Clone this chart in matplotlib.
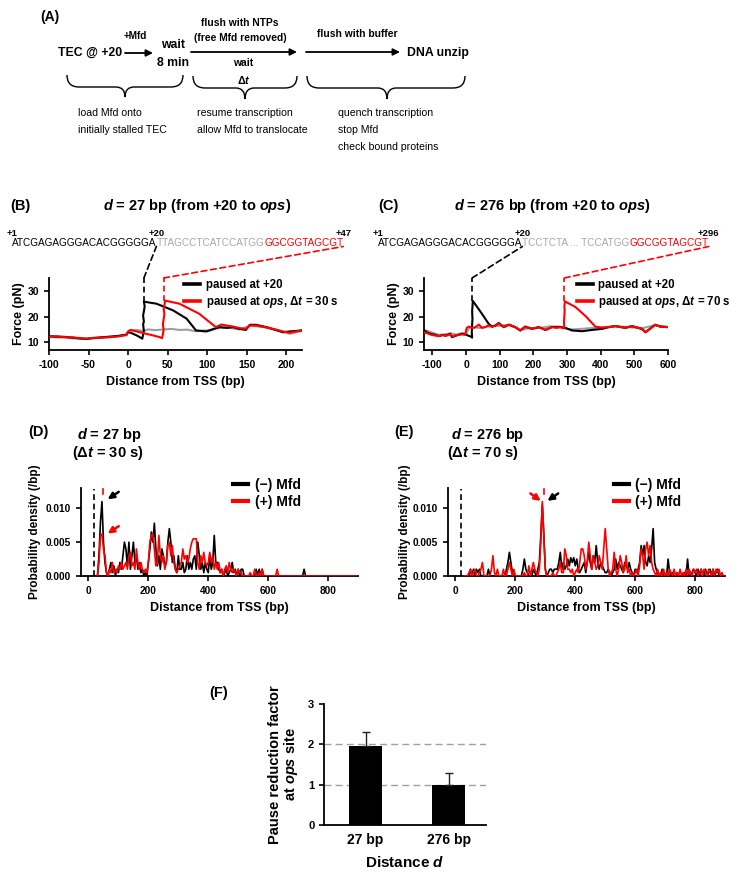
import numpy as np
import matplotlib
matplotlib.use('Agg')
import matplotlib.pyplot as plt
from matplotlib.lines import Line2D
from matplotlib.patches import PathPatch
from matplotlib.path import Path
from matplotlib import font_manager

plt.rcParams['font.family'] = ['Liberation Sans', 'DejaVu Sans']
plt.rcParams['font.weight'] = 'bold'
plt.rcParams['axes.labelweight'] = 'bold'
plt.rcParams['axes.unicode_minus'] = False
plt.rcParams['mathtext.fontset'] = 'custom'
plt.rcParams['mathtext.rm'] = 'Liberation Sans:bold'
plt.rcParams['mathtext.it'] = 'Liberation Sans:italic:bold'
plt.rcParams['mathtext.bf'] = 'Liberation Sans:bold'
plt.rcParams['axes.linewidth'] = 1.3

_names = {f.name for f in font_manager.fontManager.ttflist}
NARROW = 'Liberation Sans Narrow' if 'Liberation Sans Narrow' in _names else 'Liberation Sans'
A_SCALE = 1.15 if NARROW != 'Liberation Sans' else 1.0

RED = '#ff0000'
GRAY = '#9e9e9e'
SEQGRAY = '#a8a8a8'

# ---------------- data ----------------
# Panel B force traces (bp, pN)
b_black_x = [-100, -90, -80, -70, -60, -53, -45, -35, -23, -12, -2, 0, 5, 12, 18, 19, 20, 19, 20, 19, 20, 21, 20,
             36, 57, 74, 86, 99, 108, 116, 125, 133, 141, 149, 154, 162, 175, 186, 196, 204, 212, 219]
b_black_y = [12.4, 12.2, 12.1, 11.8, 11.5, 11.3, 11.6, 11.9, 12.2, 12.5, 13.0, 14.0, 13.5, 12.5, 11.4, 13, 14.5, 17, 18, 20.5, 22, 24, 25.8,
             25.0, 22.4, 19.2, 14.6, 14.2, 15.2, 15.9, 15.6, 15.9, 15.2, 14.8, 16.8, 16.8, 15.9, 14.9, 13.9, 14.2, 14.4, 14.6]
b_red_x = [-100, -90, -80, -70, -60, -53, -45, -35, -23, -12, -2, 0, 3, 10, 20, 30, 40, 43, 44, 45, 44, 45, 46, 45, 47,
           65, 90, 111, 118, 125, 133, 141, 149, 154, 162, 175, 186, 196, 204, 212, 219]
b_red_y = [12.2, 12.3, 12.0, 11.9, 11.6, 11.4, 11.7, 11.8, 12.0, 12.3, 12.8, 14.2, 14.8, 14.3, 13.5, 12.8, 12.0, 11.6, 13, 15, 17, 19, 21, 23, 26.2,
           25.0, 21.1, 15.9, 16.9, 16.5, 16.1, 15.5, 15.2, 16.6, 16.5, 15.8, 15.0, 14.2, 13.7, 14.2, 14.6]
b_gray_x = [-100, -80, -60, -40, -20, -2, 2, 10, 20, 25, 35, 45, 55, 65, 75, 85, 95, 105, 112, 125, 140, 155, 170, 190, 205, 212, 219]
b_gray_y = [12.0, 11.8, 11.3, 11.6, 12.1, 12.9, 14.5, 14.8, 14.4, 15.0, 14.7, 15.0, 15.2, 14.8, 14.9, 14.3, 14.6, 14.6, 15.4, 15.8, 15.0, 16.4, 16.0, 14.5, 13.3, 13.8, 14.4]

# Panel C force traces
c_black_x = [-125, -115, -106, -95, -81, -70, -60, -47, -42, -30, -12, 0, 8, 15, 18, 17, 18, 19, 18, 19, 20, 45, 67, 77, 87, 97,
             112, 127, 146, 161, 176, 196, 216, 236, 255, 280, 295, 315, 345, 374, 404, 424, 444, 473, 493, 523, 533, 562, 577, 600]
c_black_y = [14.6, 13.8, 13.3, 13.0, 12.4, 12.8, 12.6, 13.3, 12.0, 12.6, 13.3, 13.0, 12.5, 12.2, 11.8, 14, 17, 19, 22, 24, 26.1, 21.5, 17.2, 16.1, 16.5, 17.5,
             15.9, 16.8, 15.9, 14.6, 16.1, 15.2, 15.9, 14.8, 15.9, 15.9, 15.6, 14.6, 14.3, 14.8, 15.2, 15.9, 16.3, 15.6, 16.3, 15.2, 13.9, 16.8, 16.1, 15.9]
c_red_x = [-125, -115, -106, -95, -81, -70, -60, -47, -42, -30, -12, -3, 2, 8, 20, 28, 38, 47, 57, 67, 77, 87, 97, 112, 127, 146, 161,
           176, 196, 216, 236, 255, 270, 280, 290, 292, 291, 292, 293, 292, 294, 325, 355, 384, 404, 424, 444, 473, 493, 523, 533, 562, 577, 600]
c_red_y = [13.9, 13.5, 13.0, 12.7, 12.4, 12.8, 12.5, 13.1, 12.3, 12.7, 13.1, 12.9, 15.6, 16.1, 15.5, 15.9, 16.9, 15.6, 15.9, 16.6, 16.0, 16.5, 17.3, 15.9, 16.8, 15.9, 14.6,
           16.1, 15.2, 15.9, 14.8, 15.9, 15.6, 15.9, 15.4, 15.6, 18, 20, 22.5, 24, 25.9, 23.7, 20.2, 16.1, 15.7, 15.9, 16.3, 15.6, 16.3, 15.2, 13.9, 16.8, 16.1, 15.9]
c_gray_x = [-125, -110, -95, -80, -60, -45, -30, -10, 0, 10, 20, 40, 60, 80, 100, 130, 160, 190, 220, 250, 280, 300, 320, 350, 380, 410, 440, 480, 520, 560, 600]
c_gray_y = [14.9, 14.2, 13.5, 12.9, 13.2, 13.5, 13.0, 13.6, 13.3, 15.8, 15.9, 15.6, 16.0, 16.3, 16.4, 16.9, 14.8, 15.5, 15.6, 16.2, 16.1, 15.2, 15.0, 15.3, 15.6, 15.9, 16.2, 16.0, 15.4, 16.6, 15.9]

# pause / ops positions (bp) used by the dashed guides
b_pause, b_ops = 20, 45
c_pause, c_ops = 18, 292

# Panels D/E: probability density (units of 1e-3 /bp), bins every 5 bp from 30 to 895
dens_x = np.arange(30, 900, 5)
d_black = [0, 3, 8, 11, 5, 2, 0.5, 0, 1, 2, 0.5, 1.5, 0, 1,
           0.5, 2, 1, 3, 5, 4, 1.5, 5, 1, 3, 5, 2, 3, 1, 2, 0.5, 1, 0, 0.5, 0,
           2, 4, 6.5, 5, 7.8, 4, 1.5, 3, 1, 4, 3, 1.5, 2, 5, 7, 5, 2, 3, 1, 0.5,
           3, 1, 1, 2, 0.5, 1, 3, 1, 2, 1, 2.5, 3, 1, 5, 3, 1, 2, 0.5, 2, 1,
           0.5, 3, 1, 2, 6, 2, 2, 1, 0.5, 1, 0, 0.5, 1, 0, 0.5, 1, 2, 0.5, 1, 0,
           1, 0, 1, 1, 0, 0, 0, 0, 0, 0, 0, 0, 1, 0, 1, 0, 1, 0, 0, 0,
           0, 0, 0, 0, 0, 0, 0, 0, 0, 0, 0, 0, 0, 0, 0, 0, 0, 0, 0, 0,
           0, 0, 0, 0, 1, 0, 0, 0, 0, 0, 0, 0, 0, 0, 0, 0, 0, 0, 0, 0,
           0, 0, 0, 0, 0, 0, 0, 0, 0, 0, 0, 0, 0, 0, 0, 0, 0, 0, 0, 0]
d_red = [0, 2, 6, 6.2, 4, 3, 0.5, 0, 1, 0.5, 2, 0.5, 1, 0.5,
         1.5, 1, 2, 1, 1.5, 2, 1, 3, 3.5, 1.5, 2, 1, 4, 2, 1, 2, 1, 0.5, 1, 0.5,
         2, 5, 6, 6.2, 4, 1.5, 2, 6, 3, 2, 3, 1, 2, 4.5, 5, 3, 4.5, 2, 1, 0.5,
         1, 1.5, 2, 4, 2.5, 3, 2, 2.5, 4, 5, 5.5, 5.5, 5.5, 2, 1, 3, 2, 3.5, 2, 1.5,
         2, 3.5, 2, 3, 1, 2, 1, 2, 0.5, 1, 0, 1, 1.5, 0.5, 2, 1, 0.5, 1, 0.5, 0,
         1, 0.5, 0.5, 0, 0, 0, 0, 0, 0.5, 0, 0, 1, 0, 0, 0.5, 0, 1, 0, 0, 0,
         0, 0, 0, 0, 0, 0, 1, 0, 0, 0, 0, 0, 0, 0, 0, 0, 0, 0, 0, 0,
         0, 0, 0, 0, 0, 0, 0, 0, 0, 0, 0, 0, 0, 0, 0, 0, 0, 0, 0, 0,
         0, 0, 0, 0, 0, 0, 0, 0, 0, 0, 0, 0, 0, 0, 0, 0, 0, 0, 0, 0]
e_black = [0, 0, 0, 0, 1, 0, 1, 0, 1, 0.5, 1, 0, 0, 0,
           0, 0, 1, 0, 0, 0, 0, 0, 0, 0, 0, 0, 0, 0, 1, 2, 3.5, 2, 0.5, 0,
           0, 0, 0, 0, 0, 1, 2.5, 1, 0.5, 0, 0, 0, 1, 0.5, 0, 1, 2, 6, 10.5, 6,
           1, 0, 0.5, 1, 1, 0.5, 1, 1, 1, 2, 3.5, 1, 2, 1, 1.5, 2.5, 1.5, 2.7, 2, 2.7,
           1.5, 2.5, 1, 0.5, 1, 1.5, 2, 0.5, 2, 3.5, 2, 1, 3, 2, 4.5, 2, 1, 2, 1.5, 1,
           0.5, 0.5, 1, 0.5, 0, 0.5, 1, 2.5, 1, 2, 1.5, 1, 0.5, 2, 1.5, 1, 2, 1, 0.5, 0,
           1, 0.5, 1, 2, 4.5, 3, 4.5, 2, 1.5, 3, 2, 4, 7, 2, 1, 0.5, 0, 0, 1, 0,
           0, 0, 2.5, 0.5, 0, 0.5, 0, 0, 0.5, 0, 0, 0, 0, 0.5, 0, 2.5, 0, 0, 0.5, 1,
           0.5, 0, 1, 0, 1, 0.5, 0, 1, 0, 0.5, 1, 0, 1, 0, 0.5, 1, 0, 0, 0, 0]
e_red = [0, 0, 0, 0.5, 1, 0, 0.5, 1, 0, 0, 0.5, 1, 2, 0,
         0, 0, 0, 0, 1, 3, 0.5, 0, 1, 0, 0, 0, 1, 0, 0, 1, 2, 1, 0, 1,
         0, 0, 0, 0, 0, 0, 0.5, 0, 0, 1.5, 0, 1, 2, 1, 0.5, 0, 1, 5, 11, 6,
         1, 0, 0, 0, 0, 0.5, 0, 0, 0.5, 1, 2, 0.5, 0.5, 4, 3, 1, 1, 0.5, 1, 0,
         0.5, 1, 0.5, 2, 4, 4, 3, 1, 2, 5, 3, 1, 3, 2, 1, 1.5, 3, 2, 1, 4,
         7, 4, 1, 0, 0.5, 1, 3.5, 1, 0, 1, 3, 2, 0.5, 1, 3, 0.5, 1, 0, 0.5, 0,
         0.5, 1, 0, 1.5, 4, 3, 1, 4, 5, 3, 4.5, 2, 1, 0.5, 0, 1, 0, 0.5, 0, 1,
         0, 0.5, 0, 1, 0.5, 0, 1, 0, 0.5, 0, 1, 0, 0.5, 0, 1, 0, 1, 0.5, 0, 1,
         0.5, 1, 0, 0.5, 1, 0, 1, 0.5, 0, 1, 0.5, 0, 1, 0, 1, 0.5, 1, 0, 0.5, 0]

# Panel F
f_categories = ['27 bp', '276 bp']
f_values = [1.95, 0.98]
f_errors = [0.35, 0.30]

# sequences
seq_b = ['ATCGAGAGGGACACGGGGGA', 'TTAGCCTCATCCATGG', 'GGCGGTAGCGT']
seq_c = ['ATCGAGAGGGACACGGGGGA', 'TCCTCTA ... TCCATGG', 'GGCGGTAGCGT']
seq_b_labels = ['+1', '+20', '+47']
seq_c_labels = ['+1', '+20', '+296']

# ---------------- figure ----------------
W, H = 751, 876
fig = plt.figure(figsize=(W / 100, H / 100), dpi=100)


def frac(l, t, r, b):
    return [l / W, 1 - b / H, (r - l) / W, (b - t) / H]


def style(ax, tick_size=7.5):
    for s in ['top', 'right']:
        ax.spines[s].set_visible(False)
    ax.tick_params(direction='out', length=3.5, width=1.2, labelsize=tick_size)
    for lab in ax.get_xticklabels() + ax.get_yticklabels():
        lab.set_fontweight('bold')


DASH = (0, (3.5, 2.2))

# ---------- B ----------
axB = fig.add_axes(frac(49, 278, 302, 350))
axB.plot(b_gray_x, b_gray_y, color=GRAY, lw=1.5, zorder=1)
axB.plot(b_black_x, b_black_y, color='black', lw=1.5, zorder=2)
axB.plot(b_red_x, b_red_y, color=RED, lw=1.5, zorder=3)
axB.set_xlim(-100, 220)
axB.set_ylim(7, 35)
axB.set_xticks([-100, -50, 0, 50, 100, 150, 200])
axB.set_yticks([10, 20, 30])
style(axB)
axB.set_ylabel('Force (pN)', fontsize=9)
axB.yaxis.set_label_coords(-0.095, 0.5)
axB.set_xlabel('Distance from TSS (bp)', fontsize=9)
axB.xaxis.set_label_coords(0.5, -0.36)
axB.plot([b_pause, b_pause], [max(b_black_y), 35], color='black', lw=1.2, ls=DASH, clip_on=False)
axB.plot([b_ops, b_ops], [max(b_red_y), 35], color=RED, lw=1.2, ls=DASH, clip_on=False)
hB = [Line2D([], [], color='black', lw=2.6), Line2D([], [], color=RED, lw=2.6)]
axB.legend(hB, ['paused at +20', r'paused at $ops$, Δ$t$ = 30 s'], loc='upper left',
           bbox_to_anchor=(0.535, 0.99), frameon=False, fontsize=8.3, handlelength=1.4,
           handletextpad=0.5, labelspacing=0.25, borderaxespad=0, borderpad=0)

# ---------- C ----------
axC = fig.add_axes(frac(424, 278, 668, 350))
axC.plot(c_gray_x, c_gray_y, color=GRAY, lw=1.5, zorder=1)
axC.plot(c_black_x, c_black_y, color='black', lw=1.5, zorder=2)
axC.plot(c_red_x, c_red_y, color=RED, lw=1.5, zorder=3)
axC.set_xlim(-125, 600)
axC.set_ylim(7, 35)
axC.set_xticks([-100, 0, 100, 200, 300, 400, 500, 600])
axC.set_yticks([10, 20, 30])
style(axC)
axC.set_ylabel('Force (pN)', fontsize=9)
axC.yaxis.set_label_coords(-0.098, 0.5)
axC.set_xlabel('Distance from TSS (bp)', fontsize=9)
axC.xaxis.set_label_coords(0.5, -0.36)
axC.plot([c_pause, c_pause], [max(c_black_y), 35], color='black', lw=1.2, ls=DASH, clip_on=False)
axC.plot([c_ops, c_ops], [max(c_red_y), 35], color=RED, lw=1.2, ls=DASH, clip_on=False)
hC = [Line2D([], [], color='black', lw=2.6), Line2D([], [], color=RED, lw=2.6)]
axC.legend(hC, ['paused at +20', r'paused at $ops$, Δ$t$ = 70 s'], loc='upper left',
           bbox_to_anchor=(0.625, 0.99), frameon=False, fontsize=8.3, handlelength=1.4,
           handletextpad=0.5, labelspacing=0.25, borderaxespad=0, borderpad=0)


# ---------- D / E ----------
def density_panel(rect, blk, red, ylx, legx, arrows, tick_x):
    ax = fig.add_axes(rect)
    ax.plot(dens_x, np.array(blk) * 1e-3, color='black', lw=1.2, zorder=2)
    ax.plot(dens_x, np.array(red) * 1e-3, color=RED, lw=1.2, zorder=3)
    ax.set_xlim(-25, 900)
    ax.set_ylim(0, 0.013)
    ax.set_xticks([0, 200, 400, 600, 800])
    ax.set_yticks([0, 0.005, 0.010])
    ax.set_yticklabels(['0.000', '0.005', '0.010'])
    style(ax, 7.3)
    ax.plot([20, 20], [0, 0.0128], color='black', lw=1.2, ls=DASH, zorder=1)
    ax.plot([tick_x, tick_x], [0.0121, 0.0128], color=RED, lw=1.2, zorder=4)
    for (x0, y0, x1, y1, c) in arrows:
        ax.annotate('', xy=(x1, y1), xytext=(x0, y0),
                    arrowprops=dict(arrowstyle='-|>', color=c, lw=1.8, mutation_scale=9,
                                    shrinkA=0, shrinkB=0))
    ax.set_ylabel('Probability density (/bp)', fontsize=8.5)
    ax.yaxis.set_label_coords(ylx, 0.5)
    ax.set_xlabel('Distance from TSS (bp)', fontsize=9)
    ax.xaxis.set_label_coords(0.5, -0.30)
    h = [Line2D([], [], color='black', lw=3), Line2D([], [], color=RED, lw=3)]
    ax.legend(h, ['(\u2212) Mfd', '(+) Mfd'], loc='upper left', bbox_to_anchor=(legx, 1.115),
              frameon=False, fontsize=10, handlelength=1.05, handletextpad=0.5,
              labelspacing=0.25, borderaxespad=0, borderpad=0)
    return ax


axD = density_panel(frac(81, 488, 358, 576), d_black, d_red, -0.145, 0.549,
                    [(101, 0.01243, 64, 0.01134, 'black'), (101, 0.00736, 64, 0.00627, RED)], 48)
axE = density_panel(frac(448, 488, 725, 576), e_black, e_red, -0.135, 0.599,
                    [(250, 0.0122, 285, 0.0111, RED), (343, 0.0122, 307, 0.0111, 'black')], 296)

# ---------- F ----------
axF = fig.add_axes(frac(324, 704, 486, 825))
xpos = np.arange(len(f_categories))
axF.axhline(1, color='#a0a0a0', lw=1, ls=(0, (5, 3)), zorder=0)
axF.axhline(2, color='#a0a0a0', lw=1, ls=(0, (5, 3)), zorder=0)
axF.bar(xpos, f_values, width=0.4, color='black', zorder=2,
        yerr=[[0, 0], f_errors], error_kw=dict(ecolor='#222222', elinewidth=1, capsize=3, capthick=1, zorder=3))
axF.set_xlim(-0.5, 1.45)
axF.set_ylim(0, 3)
axF.set_yticks([0, 1, 2, 3])
axF.set_xticks(xpos)
axF.set_xticklabels(f_categories)
style(axF, 8)
for lab in axF.get_xticklabels():
    lab.set_fontsize(10)
axF.tick_params(axis='x', length=0, pad=6)
axF.set_ylabel('Pause reduction factor\nat $ops$ site', fontsize=10.5, linespacing=1.0)
axF.yaxis.set_label_coords(-0.15, 0.5)
axF.set_xlabel('Distance $d$', fontsize=11)
axF.xaxis.set_label_coords(0.5, -0.25)

# ---------- overlay (pixel coordinates) ----------
ax0 = fig.add_axes([0, 0, 1, 1], zorder=5)
ax0.set_xlim(0, W)
ax0.set_ylim(H, 0)
ax0.axis('off')


def atext(x, y, s, size, **kw):
    ax0.text(x, y, s, fontsize=size * A_SCALE, family=[NARROW, 'DejaVu Sans'], **kw)


# Panel A
ax0.text(50, 17, '(A)', fontsize=10, ha='center', va='center')
atext(90, 53, 'TEC @ +20', 8.8, ha='center', va='center')
atext(135, 36, '+Mfd', 7.2, ha='center', va='center')
atext(173, 45, 'wait', 8.8, ha='center', va='center')
atext(173, 63, '8 min', 8.8, ha='center', va='center')
atext(240, 23, 'flush with NTPs', 7.4, ha='center', va='center')
atext(240, 38, '(free Mfd removed)', 7.4, ha='center', va='center')
atext(243, 63, 'wait', 7.4, ha='center', va='center')
ax0.text(244, 80, 'Δ$t$', fontsize=7.8, ha='center', va='center')
atext(357, 34, 'flush with buffer', 7.4, ha='center', va='center')
atext(438, 53, 'DNA unzip', 8.8, ha='center', va='center')
for (xa, xb, y) in [(125, 153, 53), (191, 297, 52), (306, 400, 52)]:
    ax0.annotate('', xy=(xb, y), xytext=(xa, y),
                 arrowprops=dict(arrowstyle='-|>', color='black', lw=1.3, mutation_scale=10,
                                 shrinkA=0, shrinkB=0))


def brace(x0, x1, xc, ytop, ymid, ytip, r1=12, r2=9):
    verts = [(x0, ytop), (x0, ymid), (x0 + r1, ymid), (xc - r2, ymid), (xc, ymid), (xc, ytip),
             (xc, ymid), (xc + r2, ymid), (x1 - r1, ymid), (x1, ymid), (x1, ytop)]
    codes = [Path.MOVETO, Path.CURVE3, Path.CURVE3, Path.LINETO, Path.CURVE3, Path.CURVE3,
             Path.CURVE3, Path.CURVE3, Path.LINETO, Path.CURVE3, Path.CURVE3]
    ax0.add_patch(PathPatch(Path(verts, codes), fill=False, lw=1.0, color='black'))


brace(67, 183, 125, 75, 87, 97)
brace(193, 297, 245, 76, 88, 99)
brace(307, 465, 387, 76, 88, 99)

desc = [(78, ['load Mfd onto', 'initially stalled TEC']),
        (197, ['resume transcription', 'allow Mfd to translocate']),
        (338, ['quench transcription', 'stop Mfd', 'check bound proteins'])]
for x, lines in desc:
    for i, s in enumerate(lines):
        atext(x, 113 + 17 * i, s, 7.6, fontweight='normal', ha='left', va='center')

# Panel titles
ax0.text(20, 206, '(B)', fontsize=10.5, ha='center', va='center')
ax0.text(197, 206, r'$d$ = 27 bp (from +20 to $ops$)', fontsize=10.5, ha='center', va='center')
ax0.text(388, 206, '(C)', fontsize=10.5, ha='center', va='center')
ax0.text(552, 206, r'$d$ = 276 bp (from +20 to $ops$)', fontsize=10.5, ha='center', va='center')
ax0.text(38, 432, '(D)', fontsize=10.5, ha='center', va='center')
ax0.text(110, 435, r'$d$ = 27 bp', fontsize=10.5, ha='center', va='center')
ax0.text(108, 453, r'(Δ$t$ = 30 s)', fontsize=10.5, ha='center', va='center')
ax0.text(404, 432, '(E)', fontsize=10.5, ha='center', va='center')
ax0.text(488, 435, r'$d$ = 276 bp', fontsize=10.5, ha='center', va='center')
ax0.text(483, 453, r'(Δ$t$ = 70 s)', fontsize=10.5, ha='center', va='center')
ax0.text(219, 693, '(F)', fontsize=10.5, ha='center', va='center')


def sequence(x, y, parts, labels, ax_target, pause, ops):
    colors = ['black', SEQGRAY, RED]
    arts = []
    t = ax0.text(x, y, parts[0], fontsize=7.2, fontweight='normal', color=colors[0],
                 ha='left', va='baseline')
    arts.append(t)
    for p, c in zip(parts[1:], colors[1:]):
        t = ax0.annotate(p, xy=(1, 0), xycoords=arts[-1], fontsize=7.2, fontweight='normal',
                         color=c, ha='left', va='bottom')
        arts.append(t)
    ax0.annotate(labels[0], xy=(0, 1), xycoords=arts[0], fontsize=6.8, ha='center', va='bottom')
    ax0.annotate(labels[1], xy=(1, 1), xycoords=arts[0], fontsize=6.8, ha='center', va='bottom')
    ax0.annotate(labels[2], xy=(1, 1), xycoords=arts[2], fontsize=6.8, ha='center', va='bottom')
    top = ax_target.get_ylim()[1]
    for art, xb, col in [(arts[0], pause, 'black'), (arts[2], ops, RED)]:
        ax0.annotate('', xy=(1, 0.15), xycoords=art, xytext=(xb, top),
                     textcoords=ax_target.transData, annotation_clip=False,
                     arrowprops=dict(arrowstyle='-', color=col, lw=1.2, ls=DASH,
                                     shrinkA=0, shrinkB=0))


sequence(12, 246, seq_b, seq_b_labels, axB, b_pause, b_ops)
sequence(378, 246, seq_c, seq_c_labels, axC, c_pause, c_ops)

fig.savefig('out.png', dpi=100)
